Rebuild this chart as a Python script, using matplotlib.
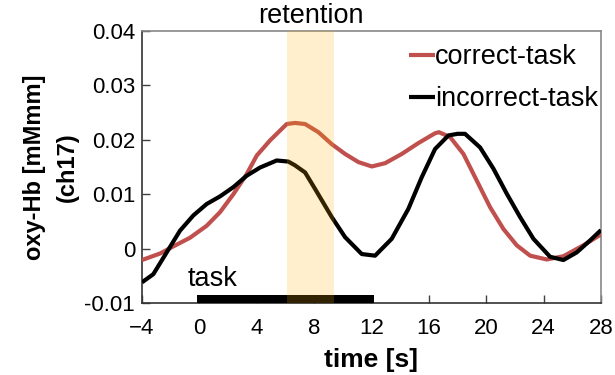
import matplotlib
matplotlib.use("Agg")
import matplotlib.pyplot as plt
from matplotlib.ticker import FixedLocator

plt.rcParams['font.family'] = ['Liberation Sans', 'DejaVu Sans']

correct_t = [-4.0, -2.74, -1.82, -0.65, 0.51, 1.44, 2.37, 3.30, 4.0, 4.93, 6.09, 6.67,
             7.37, 8.30, 9.23, 10.16, 11.09, 12.02, 12.95, 14.11, 15.27, 16.43, 16.7,
             17.48, 18.41, 19.34, 20.27, 21.2, 22.13, 23.06, 24.22, 25.38, 26.77, 28.0]
correct_y = [-0.0021, -0.0009, 0.0004, 0.0020, 0.0042, 0.0067, 0.0100, 0.0137, 0.0171,
             0.0199, 0.0229, 0.0231, 0.0229, 0.0214, 0.0192, 0.0174, 0.0159, 0.0151,
             0.0157, 0.0174, 0.0194, 0.0212, 0.0214, 0.0205, 0.0174, 0.0125, 0.0076,
             0.0036, 0.0006, -0.0013, -0.0020, -0.0014, 0.0006, 0.0026]

incorrect_t = [-4.0, -3.21, -2.28, -1.35, -0.42, 0.51, 1.44, 2.37, 3.30, 4.23, 5.39, 6.2,
               6.67, 7.37, 8.06, 9.23, 10.16, 11.32, 12.25, 13.41, 14.57, 15.5, 16.43,
               17.36, 18.0, 18.52, 19.57, 20.5, 21.43, 22.36, 23.29, 24.45, 25.38, 26.31,
               27.24, 28.0]
incorrect_y = [-0.0062, -0.0047, -0.0007, 0.0033, 0.0061, 0.0082, 0.0096, 0.0113, 0.0134,
               0.0149, 0.0162, 0.0160, 0.0153, 0.0140, 0.0110, 0.0058, 0.0021, -0.0010,
               -0.0013, 0.0018, 0.0073, 0.0131, 0.0183, 0.0208, 0.0211, 0.0211, 0.0186,
               0.0147, 0.0101, 0.0058, 0.0018, -0.0015, -0.0021, -0.0007, 0.0015, 0.0034]

series_labels = ['correct-task', 'incorrect-task']
retention_span = (6.1, 9.4)
task_span = (-0.2, 12.2)
x_ticks = [-4, 0, 4, 8, 12, 16, 20, 24, 28]
x_tick_labels = ['\u22124', '0', '4', '8', '12', '16', '20', '24', '28']
y_ticks = [-0.01, 0, 0.01, 0.02, 0.03, 0.04]
y_tick_labels = ['-0.01', '0', '0.01', '0.02', '0.03', '0.04']

fig = plt.figure(figsize=(6.15, 3.75), dpi=100)
ax = fig.add_axes([0.2309, 0.192, 0.7463, 0.7253])

ax.plot(correct_t, correct_y, color='#C0504D', lw=3.0, label=series_labels[0],
        solid_joinstyle='round', solid_capstyle='butt', zorder=3)
ax.plot(incorrect_t, incorrect_y, color='black', lw=3.0, label=series_labels[1],
        solid_joinstyle='round', solid_capstyle='butt', zorder=3)

# task bar
ax.fill_between(task_span, -0.01, -0.0085, color='black', lw=0, zorder=4)
# retention band (on top, translucent)
ax.axvspan(*retention_span, color='#FFB000', alpha=0.2, lw=0, zorder=5)

ax.set_xlim(-4, 28)
ax.set_ylim(-0.01, 0.04)
ax.xaxis.set_major_locator(FixedLocator(x_ticks))
ax.set_xticklabels(x_tick_labels)
ax.yaxis.set_major_locator(FixedLocator(y_ticks))
ax.set_yticklabels(y_tick_labels)
ax.tick_params(direction='in', length=6, width=1, labelsize=16, colors='#404040',
               labelcolor='black')
ax.tick_params(axis='x', pad=11)
ax.tick_params(axis='y', pad=5)

for s in ['left', 'bottom']:
    ax.spines[s].set_color('#333333')
    ax.spines[s].set_linewidth(1.2)
for s in ['top', 'right']:
    ax.spines[s].set_color('#888888')
    ax.spines[s].set_linewidth(1.2)

ax.set_xlabel('time [s]', fontsize=19, fontweight='bold', labelpad=6)
ax.set_ylabel('oxy-Hb [mMmm]\n(ch17)', fontsize=17, fontweight='bold',
              linespacing=1.55, labelpad=4)

ax.text(7.8, 0.0414, 'retention', ha='center', va='baseline', fontsize=19.5)
ax.text(0.95, -0.0068, 'task', ha='center', va='baseline', fontsize=19.5)

leg = ax.legend(loc='upper right', frameon=False, fontsize=19.5, handlelength=0.95,
                handletextpad=0.0, borderaxespad=0.0, borderpad=0.0, labelspacing=0.6,
                bbox_to_anchor=(0.993, 0.952))

fig.savefig('out.png', dpi=100)
